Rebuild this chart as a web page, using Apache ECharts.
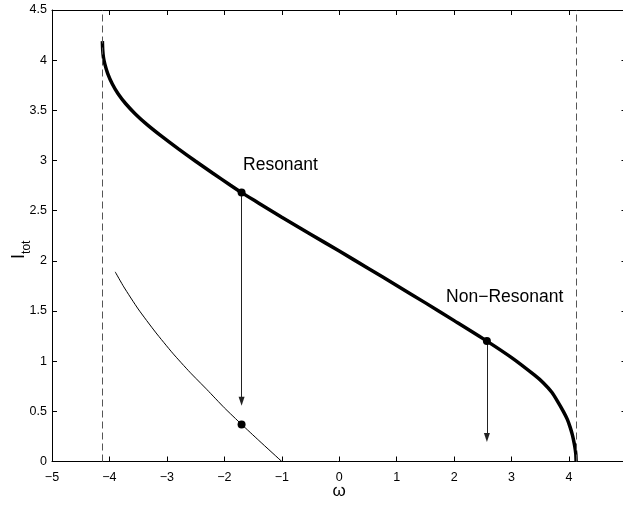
<!DOCTYPE html>
<html>
<head>
<meta charset="utf-8">
<script src="https://cdn.jsdelivr.net/npm/echarts@6/dist/echarts.min.js"></script>
<style>
  html, body { margin: 0; padding: 0; background: #fff; }
  #chart { width: 623px; height: 506px; }
</style>
</head>
<body>
<div id="chart"></div>
<script>
// Upper (stable) branch of the total intensity curve
const omegaUpper = [-4.123, -4.117, -4.105, -4.08, -4.03, -3.95, -3.85, -3.72, -3.55, -3.35,
                    -3.10, -2.80, -2.50, -2.20, -1.90, -1.70, -1.40, -1.00, -0.50, 0.00,
                    0.50, 1.00, 1.50, 2.00, 2.57, 3.00, 3.40, 3.55, 3.70, 3.80,
                    3.90, 3.97, 4.02, 4.06, 4.09, 4.108, 4.118, 4.123];
const itotUpper  = [4.19, 4.10, 4.03, 3.961, 3.866, 3.762, 3.665, 3.568, 3.464, 3.36,
                    3.245, 3.116, 2.993, 2.873, 2.756, 2.68, 2.575, 2.435, 2.266, 2.097,
                    1.927, 1.755, 1.581, 1.404, 1.20, 1.035, 0.86, 0.785, 0.69, 0.60,
                    0.50, 0.42, 0.34, 0.26, 0.18, 0.12, 0.07, 0.00];

// Lower branch
const omegaLower = [-3.90, -3.75, -3.50, -3.20, -2.90, -2.60, -2.30, -2.00, -1.70, -1.40, -1.00];
const itotLower  = [1.89, 1.74, 1.52, 1.29, 1.08, 0.89, 0.715, 0.535, 0.37, 0.21, 0.00];

// Marked operating points
const pointOmega = [-1.70, -1.70, 2.57];
const pointItot  = [2.68, 0.37, 1.20];

// Transition arrows (start on the upper branch, head drawn at the end value)
const arrowOmega = [-1.70, 2.57];
const arrowFrom  = [2.68, 1.20];
const arrowTo    = [0.60, 0.24];

// Limits of the existence region
const boundaryOmega = [-4.123, 4.123];

// Annotations
const noteText  = ['Resonant', 'Non\u2212Resonant'];
const noteOmega = [-1.675, 1.86];
const noteItot  = [2.955, 1.64];

// Axis ranges
const xMin = -5, xMax = 5, xStep = 1;
const yMin = 0, yMax = 4.5, yStep = 0.5;

const FONT = '"Liberation Sans", Arial, Helvetica, sans-serif';
const minus = v => String(v).replace('-', '\u2212');

const chart = echarts.init(document.getElementById('chart'), null, { renderer: 'canvas' });

const tickStyle = { show: true, inside: true, length: 5, lineStyle: { color: '#000', width: 1 } };
const lineStyleAxis = { show: true, onZero: false, lineStyle: { color: '#000', width: 1 } };

chart.setOption({
  animation: false,
  backgroundColor: '#fff',
  grid: { left: 52, right: -3.5, top: 10, bottom: 44.5, containLabel: false, outerBoundsMode: 'none' },
  xAxis: [
    {
      type: 'value', position: 'bottom', min: xMin, max: xMax, interval: xStep,
      axisLine: lineStyleAxis, axisTick: tickStyle, splitLine: { show: false },
      axisLabel: { color: '#000', fontFamily: FONT, fontSize: 12.5, margin: 10, formatter: minus },
      name: '\u03C9', nameLocation: 'middle', nameGap: 21, nameMoveOverlap: false,
      nameTextStyle: { color: '#000', fontFamily: FONT, fontSize: 17 }
    },
    {
      type: 'value', position: 'top', min: xMin, max: xMax, interval: xStep,
      axisLine: lineStyleAxis, axisTick: tickStyle, splitLine: { show: false },
      axisLabel: { show: false }
    }
  ],
  yAxis: [
    {
      type: 'value', position: 'left', min: yMin, max: yMax, interval: yStep,
      axisLine: lineStyleAxis, axisTick: tickStyle, splitLine: { show: false },
      axisLabel: { color: '#000', fontFamily: FONT, fontSize: 12.5, margin: 5 },
      name: '{i|I}{t|tot}', nameLocation: 'middle', nameGap: 19, nameRotate: 90,
      nameMoveOverlap: false,
      nameTextStyle: {
        padding: [0, 28, 0, 0],
        rich: {
          i: { color: '#000', fontFamily: FONT, fontSize: 18, lineHeight: 18, verticalAlign: 'top' },
          t: { color: '#000', fontFamily: FONT, fontSize: 12, lineHeight: 23, verticalAlign: 'bottom' }
        }
      }
    },
    {
      type: 'value', position: 'right', min: yMin, max: yMax, interval: yStep,
      axisLine: lineStyleAxis, axisTick: tickStyle, splitLine: { show: false },
      axisLabel: { show: false }
    }
  ],
  series: [
    {
      name: 'boundaries', type: 'line', data: [], silent: true,
      markLine: {
        silent: true, symbol: ['none', 'none'], label: { show: false },
        lineStyle: { color: '#555', width: 1, type: [7, 4] },
        data: boundaryOmega.map(w => ({ xAxis: w }))
      }
    },
    {
      name: 'upper', type: 'line', showSymbol: false, smooth: 0.2,
      data: omegaUpper.map((w, i) => [w, itotUpper[i]]),
      lineStyle: { color: '#000', width: 3.5 }, z: 3
    },
    {
      name: 'lower', type: 'line', showSymbol: false, smooth: 0.2,
      data: omegaLower.map((w, i) => [w, itotLower[i]]),
      lineStyle: { color: '#000', width: 1 }, z: 3
    },
    {
      name: 'arrows', type: 'line', data: [], silent: true,
      markLine: {
        silent: true, symbol: ['none', 'triangle'], symbolSize: [6, 9], label: { show: false },
        lineStyle: { color: '#222', width: 1, type: 'solid' },
        itemStyle: { color: '#000' },
        data: arrowOmega.map((w, i) => [{ coord: [w, arrowFrom[i]] }, { coord: [w, arrowTo[i]] }])
      },
      z: 2
    },
    {
      name: 'points', type: 'scatter', symbol: 'circle', symbolSize: 8,
      itemStyle: { color: '#000', opacity: 1 }, silent: true, z: 5,
      data: pointOmega.map((w, i) => [w, pointItot[i]])
    },
    {
      name: 'notes', type: 'scatter', symbolSize: 0, silent: true, z: 6,
      itemStyle: { opacity: 1 },
      data: noteOmega.map((w, i) => [w, noteItot[i], noteText[i]]),
      label: {
        show: true, position: 'right', distance: 0, opacity: 1,
        color: '#000', fontFamily: FONT, fontSize: 17.5,
        formatter: p => p.data[2]
      }
    }
  ]
});
</script>
</body>
</html>
